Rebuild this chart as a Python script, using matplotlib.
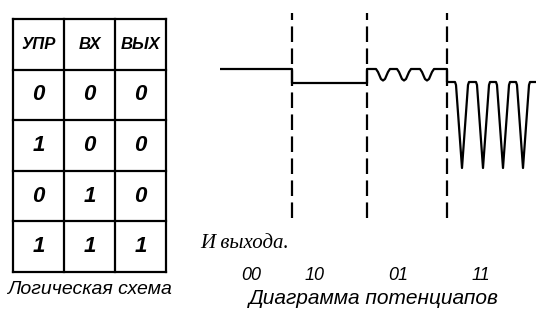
import matplotlib.pyplot as plt

# truth table
headers = ["УПР", "ВХ", "ВЫХ"]
rows = [["0", "0", "0"],
        ["1", "0", "0"],
        ["0", "1", "0"],
        ["1", "1", "1"]]

# output potential of the key (time, potential)
wave_t = [0, 72, 72, 147, 147,
          156, 158, 161, 163, 165, 168, 170,
          177, 179, 182, 184, 186, 189, 191,
          200, 202, 205, 207, 209, 212, 214,
          227, 227,
          235, 236, 242, 248, 249,
          256, 257, 263, 269, 270,
          276, 277, 283, 289, 290,
          296, 297, 303, 309, 310, 316]
wave_u = [16.1, 16.1, 14.7, 14.7, 16.1,
          16.1, 15.8, 15.1, 14.95, 15.1, 15.8, 16.1,
          16.1, 15.8, 15.1, 14.95, 15.1, 15.8, 16.1,
          16.1, 15.8, 15.1, 14.95, 15.1, 15.8, 16.1,
          16.1, 14.8,
          14.8, 14.5, 6.2, 14.5, 14.8,
          14.8, 14.5, 6.2, 14.5, 14.8,
          14.8, 14.5, 6.2, 14.5, 14.8,
          14.8, 14.5, 6.2, 14.5, 14.8, 14.8]
borders = [72, 147, 227]
states = ["00", "10", "01", "11"]
state_t = [31, 95, 178, 261]

W, H = 536, 309
fig = plt.figure(figsize=(W / 100, H / 100), dpi=100)
fig.patch.set_facecolor("white")

def px_axes(x0, y0, x1, y1):
    return fig.add_axes([x0 / W, 1 - y1 / H, (x1 - x0) / W, (y1 - y0) / H])

# --- table ---
tab = px_axes(13, 19, 166, 272)
n_rows = len(rows) + 1
n_cols = len(headers)
tab.set_xlim(0, n_cols)
tab.set_ylim(n_rows, 0)
tab.axis("off")
for i in range(n_rows + 1):
    tab.plot([0, n_cols], [i, i], color="black", lw=1.6, clip_on=False)
for j in range(n_cols + 1):
    tab.plot([j, j], [0, n_rows], color="black", lw=1.6, clip_on=False)
for j, h in enumerate(headers):
    tab.text(j + 0.5, 0.5, h, ha="center", va="center", fontsize=12,
             fontweight="bold", fontstyle="italic", family="Liberation Sans")
for i, r in enumerate(rows):
    for j, v in enumerate(r):
        tab.text(j + 0.5, i + 1.5, v, ha="center", va="center", fontsize=16,
                 fontweight="bold", fontstyle="italic", family="Liberation Sans")
fig.text(89 / W, 1 - 290 / H, "Логическая схема", ha="center", va="center",
         fontsize=14, fontstyle="italic", family="Liberation Sans")

# --- waveform ---
ax = px_axes(220, 0, 536, 230)
ax.set_xlim(0, 316)
ax.set_ylim(0, 23)
ax.axis("off")
ax.plot(wave_t, wave_u, color="black", lw=1.6, solid_joinstyle="round")
ax.vlines(borders, 1.2, 21.7, colors="black", lw=1.6,
          linestyles=(0, (7.0, 2.9)))

fig.text(200 / W, 1 - 244 / H, "И выхода.", ha="left", va="center",
         fontsize=15, fontstyle="italic", family="Liberation Serif")
for s, t in zip(states, state_t):
    fig.text((220 + t) / W, 1 - 275 / H, s, ha="center", va="center",
             fontsize=13, fontstyle="italic", family="Liberation Sans")
fig.text(374 / W, 1 - 298 / H, "Диаграмма потенциапов", ha="center",
         va="center", fontsize=15, fontstyle="italic", family="Liberation Sans")

fig.savefig("out.png", dpi=100)
